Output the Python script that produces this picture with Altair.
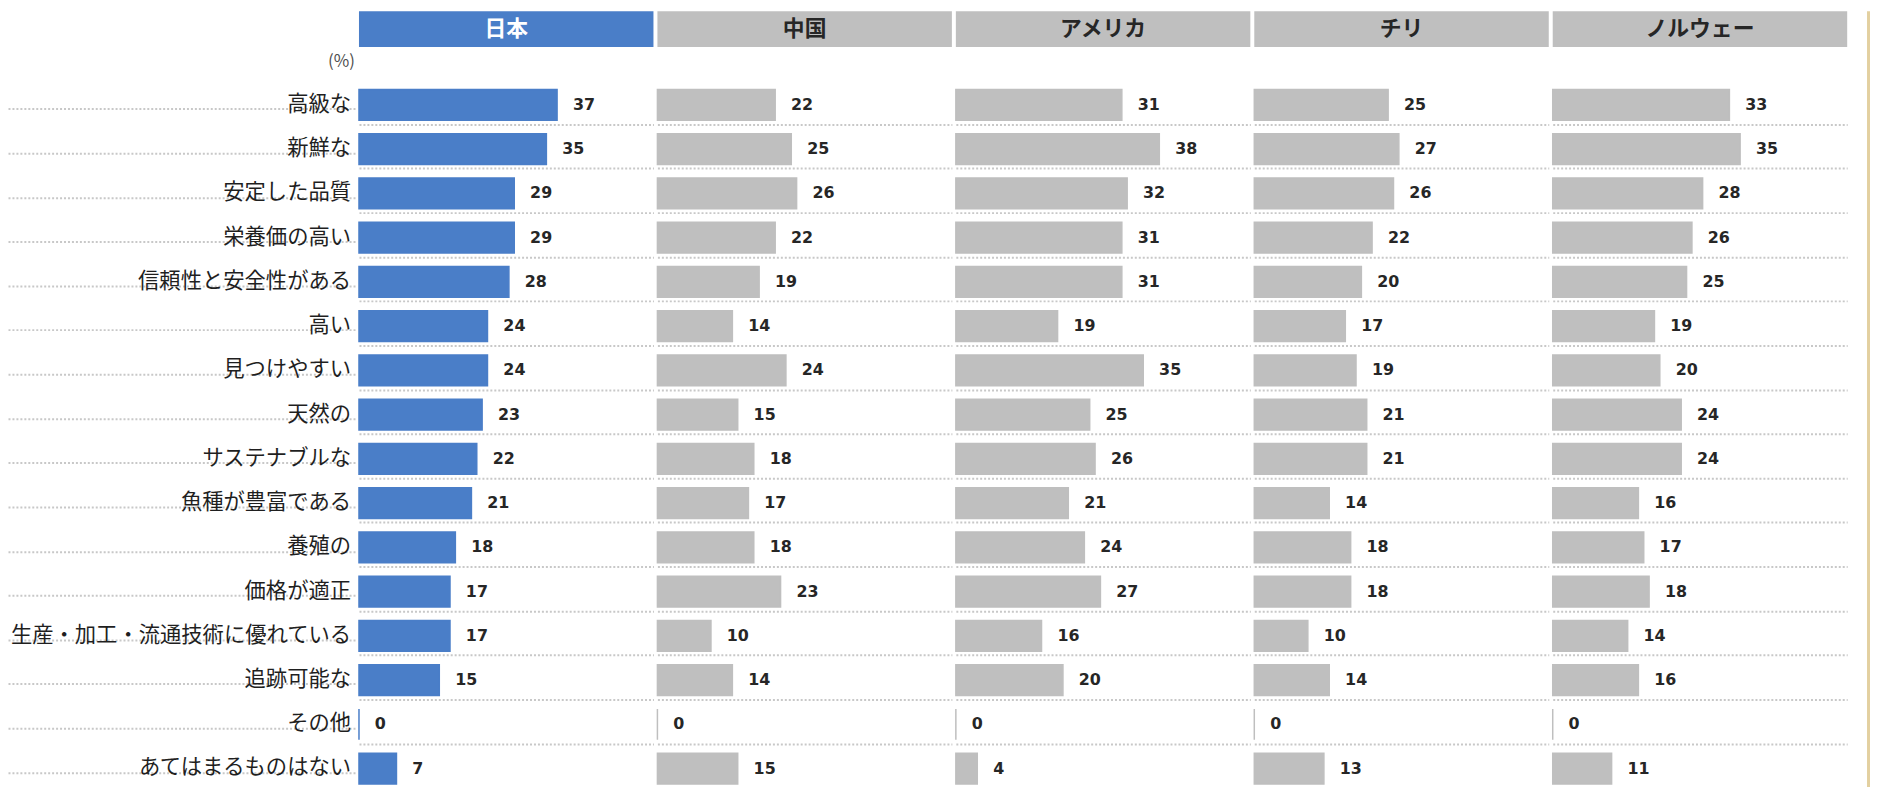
import altair as alt
import pandas as pd

categories = [
    "高級な", "新鮮な", "安定した品質", "栄養価の高い", "信頼性と安全性がある", "高い",
    "見つけやすい", "天然の", "サステナブルな", "魚種が豊富である", "養殖の", "価格が適正",
    "生産・加工・流通技術に優れている", "追跡可能な", "その他", "あてはまるものはない",
]
countries = ["日本", "中国", "アメリカ", "チリ", "ノルウェー"]
japan = [37, 35, 29, 29, 28, 24, 24, 23, 22, 21, 18, 17, 17, 15, 0, 7]
china = [22, 25, 26, 22, 19, 14, 24, 15, 18, 17, 18, 23, 10, 14, 0, 15]
usa = [31, 38, 32, 31, 31, 19, 35, 25, 26, 21, 24, 27, 16, 20, 0, 4]
chile = [25, 27, 26, 22, 20, 17, 19, 21, 21, 14, 18, 18, 10, 14, 0, 13]
norway = [33, 35, 28, 26, 25, 19, 20, 24, 24, 16, 17, 18, 14, 16, 0, 11]
series = [japan, china, usa, chile, norway]

rows = []
for c, vals in zip(countries, series):
    for cat, v in zip(categories, vals):
        rows.append({"country": c, "category": cat, "value": v})
df = pd.DataFrame(rows)

BLUE = "#4A7EC8"
GRAY = "#BFBFBF"
DARK = "#262626"
JP_FONT = "Noto Sans CJK JP"
PANEL_W = 297
LABEL_W = 350
HEADER_H = 36
ROW_GAP = 36
BODY_H = 714

ysort = alt.Y("category:N", sort=categories,
              scale=alt.Scale(paddingInner=0.305, paddingOuter=0.15))


def y_axis_enc():
    return alt.Y(
        "category:N", sort=categories,
        scale=alt.Scale(paddingInner=0.305, paddingOuter=0.15),
        axis=alt.Axis(title=None, labels=False, ticks=False, domain=False, grid=True,
                      bandPosition=1, tickOffset=4, gridDash=[2, 2],
                      gridColor="#C8C8C8", gridWidth=2),
    )


# label panel
cat_df = pd.DataFrame({"category": categories})
label_panel = alt.Chart(
    cat_df,
    title=alt.TitleParams("(%)", anchor="end", fontSize=17, fontWeight="normal",
                          color="#505050", font=JP_FONT, offset=12),
).mark_text(align="right", baseline="middle", font=JP_FONT, fontSize=21.5,
            color="#1F1F1F").encode(
    y=y_axis_enc(),
    x=alt.value(LABEL_W - 4),
    text="category:N",
).properties(width=LABEL_W, height=BODY_H)


def body(country, color, last=False):
    base = alt.Chart(df).transform_filter(alt.datum.country == country)
    bars = base.mark_bar(color=color, stroke=color, strokeWidth=1.5).encode(
        x=alt.X("value:Q", scale=alt.Scale(domain=[0, 54]), axis=None),
        y=y_axis_enc(),
    )
    txt = base.mark_text(align="left", baseline="middle", dx=16, font="DejaVu Sans",
                         fontWeight="bold", fontSize=16, color=DARK).encode(
        x=alt.X("value:Q"),
        y=ysort,
        text="value:Q",
    )
    layers = [bars, txt]
    if last:
        # thin beige page edge at far right
        edge = alt.Chart(pd.DataFrame({"a": [0]})).mark_rect(color="#E3D0A0").encode(
            x=alt.value(PANEL_W + 20), x2=alt.value(PANEL_W + 23),
            y=alt.value(-(HEADER_H + ROW_GAP)), y2=alt.value(BODY_H + 4),
        )
        layers.append(edge)
    return alt.layer(*layers).properties(width=PANEL_W, height=BODY_H)


def header(country, fill, tcolor):
    hd = pd.DataFrame({"country": [country]})
    xh = alt.X("country:N", axis=None,
               scale=alt.Scale(type="band", paddingInner=0, paddingOuter=0))
    yh = alt.Y("country:N", axis=None,
               scale=alt.Scale(type="band", paddingInner=0, paddingOuter=0))
    rect = alt.Chart(hd).mark_rect(color=fill).encode(x=xh, y=yh)
    txt = alt.Chart(hd).mark_text(font=JP_FONT, fontSize=22, fontWeight="bold",
                                  color=tcolor, baseline="middle").encode(
        x=xh, y=yh, text="country:N")
    return alt.layer(rect, txt).properties(width=PANEL_W, height=HEADER_H)


spacer = alt.Chart(pd.DataFrame({"a": [0]})).mark_point(opacity=0, size=1).encode(
    x=alt.value(LABEL_W / 2), y=alt.value(HEADER_H / 2)).properties(width=LABEL_W, height=HEADER_H)

fills = [BLUE] + [GRAY] * 4
tcols = ["#FFFFFF"] + [DARK] * 4

headers = [header(c, f, t) for c, f, t in zip(countries, fills, tcols)]
bodies = [body(c, f, last=(i == 4)) for i, (c, f) in enumerate(zip(countries, fills))]

chart = alt.concat(
    spacer, *headers, label_panel, *bodies,
    columns=6, spacing={"row": ROW_GAP, "column": 4}, bounds="flush", align="each",
).properties(padding=0).configure_view(stroke=None)

chart.save("out.html", embed_options={"renderer": "svg", "actions": False})
